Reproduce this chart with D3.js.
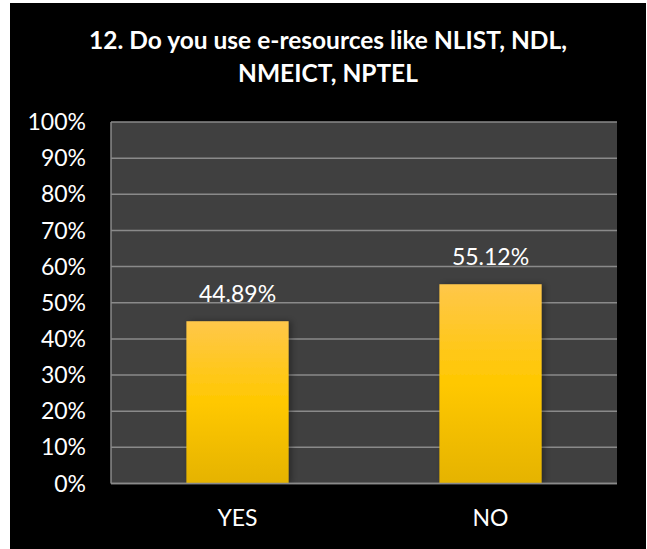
<!DOCTYPE html>
<html><head><meta charset="utf-8">
<script src="https://cdn.jsdelivr.net/npm/d3@7"></script>
<style>html,body{margin:0;padding:0;background:#fff;}svg{display:block;}</style>
</head><body>
<script>
const categories = ["YES", "NO"];
const values = [44.89, 55.12];
const yTicks = [0, 10, 20, 30, 40, 50, 60, 70, 80, 90, 100];
const titleLines = ["12. Do you use e-resources like NLIST, NDL,", "NMEICT, NPTEL"];

const W = 647, H = 549;
const svg = d3.select("body").append("svg").attr("width", W).attr("height", H);
svg.append("rect").attr("x", 10).attr("y", 3).attr("width", W - 11).attr("height", H - 3).attr("fill", "#000");

const plot = {left: 111, right: 617, top: 122, bottom: 483.5};
const x = d3.scaleBand().domain(categories).range([plot.left, plot.right]).padding(0);
const y = d3.scaleLinear().domain([0, 100]).range([plot.bottom, plot.top]);

const defs = svg.append("defs");
const grad = defs.append("linearGradient").attr("id", "barGrad").attr("x1", 0).attr("y1", 0).attr("x2", 0).attr("y2", 1);
grad.append("stop").attr("offset", "0%").attr("stop-color", "#FFC74A");
grad.append("stop").attr("offset", "50%").attr("stop-color", "#FFC800");
grad.append("stop").attr("offset", "100%").attr("stop-color", "#E5B300");
const f = defs.append("filter").attr("id", "shadow").attr("x", "-20%").attr("y", "-20%").attr("width", "150%").attr("height", "140%");
f.append("feDropShadow").attr("dx", 3).attr("dy", 0).attr("stdDeviation", 3).attr("flood-color", "#000").attr("flood-opacity", 0.35);

svg.append("rect").attr("x", plot.left).attr("y", plot.top)
  .attr("width", plot.right - plot.left).attr("height", plot.bottom - plot.top).attr("fill", "#404040");

svg.append("g").selectAll("line").data(yTicks).join("line")
  .attr("x1", plot.left).attr("x2", plot.right)
  .attr("y1", d => y(d)).attr("y2", d => y(d))
  .attr("stroke", "#8a8a8a").attr("stroke-width", 1.5);
svg.append("line").attr("x1", plot.left).attr("x2", plot.left).attr("y1", plot.top).attr("y2", plot.bottom)
  .attr("stroke", "#8a8a8a").attr("stroke-width", 1.5);

const font = "Lato, 'Open Sans', sans-serif";
svg.append("g").selectAll("text").data(yTicks).join("text")
  .attr("x", 86).attr("y", d => y(d)).attr("dy", "0.35em")
  .attr("text-anchor", "end").attr("fill", "#fff")
  .attr("font-family", font).attr("font-size", 23).text(d => d + "%");

const barFrac = 0.404;
svg.append("g").selectAll("rect").data(values).join("rect")
  .attr("x", (d, i) => x(categories[i]) + x.bandwidth() * (1 - barFrac) / 2)
  .attr("width", x.bandwidth() * barFrac)
  .attr("y", d => y(d)).attr("height", d => y(0) - y(d))
  .attr("fill", "url(#barGrad)").attr("filter", "url(#shadow)");

svg.append("line").attr("x1", plot.left).attr("x2", plot.right).attr("y1", y(0)).attr("y2", y(0))
  .attr("stroke", "#8a8a8a").attr("stroke-width", 1.5);

svg.append("g").selectAll("text").data(values).join("text")
  .attr("x", (d, i) => x(categories[i]) + x.bandwidth() / 2)
  .attr("y", d => y(d) - 19)
  .attr("text-anchor", "middle").attr("fill", "#fff")
  .attr("font-family", font).attr("font-size", 23).text(d => d.toFixed(2) + "%");

svg.append("g").selectAll("text").data(categories).join("text")
  .attr("x", d => x(d) + x.bandwidth() / 2).attr("y", 526)
  .attr("text-anchor", "middle").attr("fill", "#fff")
  .attr("font-family", font).attr("font-size", 23).text(d => d);

svg.append("g").selectAll("text").data(titleLines).join("text")
  .attr("x", 328).attr("y", (d, i) => 49 + i * 32.5)
  .attr("text-anchor", "middle").attr("fill", "#fff")
  .attr("font-family", font).attr("font-weight", "bold").attr("font-size", 24.5).text(d => d);
</script>
</body></html>
